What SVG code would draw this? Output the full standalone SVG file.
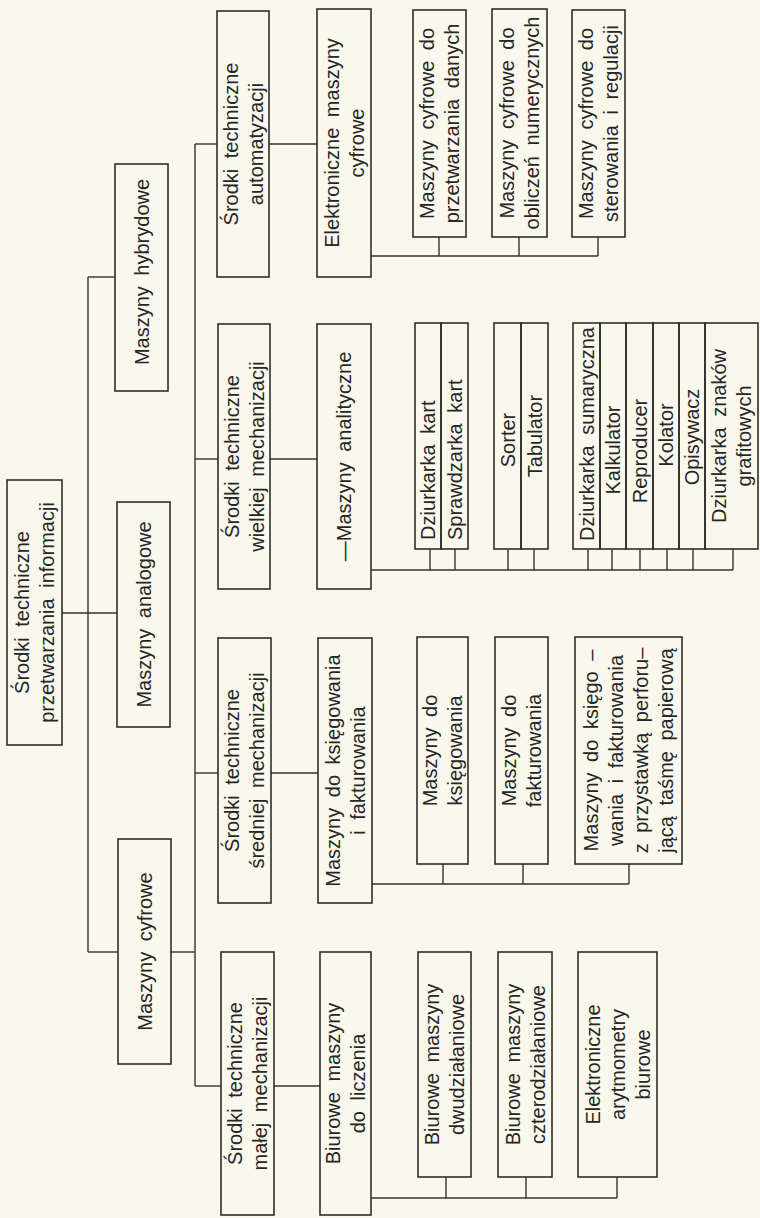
<svg xmlns="http://www.w3.org/2000/svg" width="760" height="1218" viewBox="0 0 760 1218">
<style>
.b{fill:none;stroke:#2e2e2e;stroke-width:1.6}
.c line{stroke:#333;stroke-width:1.4}
text{font-family:"Liberation Sans",Arial,sans-serif;font-size:20px;fill:#262626;text-anchor:middle;dominant-baseline:central;word-spacing:5px}
.s{text-anchor:start}
</style>
<rect x="0" y="0" width="760" height="1218" fill="#faf8ed"/>
<g class="c" id="connectors">
<line x1="88" y1="277" x2="88" y2="952"/>
<line x1="88" y1="277" x2="115" y2="277"/>
<line x1="62" y1="613" x2="117" y2="613"/>
<line x1="88" y1="952" x2="118" y2="952"/>
<line x1="171" y1="952" x2="195" y2="952"/>
<line x1="195" y1="144" x2="195" y2="1086"/>
<line x1="195" y1="144" x2="217" y2="144"/>
<line x1="195" y1="459" x2="218" y2="459"/>
<line x1="195" y1="773" x2="218" y2="773"/>
<line x1="195" y1="1086" x2="221" y2="1086"/>
<line x1="269" y1="144" x2="317" y2="144"/>
<line x1="270" y1="459" x2="317" y2="459"/>
<line x1="271" y1="773" x2="318" y2="773"/>
<line x1="274" y1="1086" x2="320" y2="1086"/>
<line x1="371" y1="256" x2="598" y2="256"/>
<line x1="439" y1="237" x2="439" y2="256"/>
<line x1="519" y1="237" x2="519" y2="256"/>
<line x1="598" y1="237" x2="598" y2="256"/>
<line x1="371" y1="570" x2="733" y2="570"/>
<line x1="430" y1="549" x2="430" y2="570"/>
<line x1="455" y1="549" x2="455" y2="570"/>
<line x1="508" y1="549" x2="508" y2="570"/>
<line x1="534" y1="549" x2="534" y2="570"/>
<line x1="588" y1="549" x2="588" y2="570"/>
<line x1="612" y1="549" x2="612" y2="570"/>
<line x1="640" y1="549" x2="640" y2="570"/>
<line x1="667" y1="549" x2="667" y2="570"/>
<line x1="693" y1="549" x2="693" y2="570"/>
<line x1="733" y1="549" x2="733" y2="570"/>
<line x1="372" y1="884" x2="629" y2="884"/>
<line x1="443" y1="864" x2="443" y2="884"/>
<line x1="523" y1="864" x2="523" y2="884"/>
<line x1="629" y1="864" x2="629" y2="884"/>
<line x1="371" y1="1198" x2="617" y2="1198"/>
<line x1="446" y1="1177" x2="446" y2="1198"/>
<line x1="526" y1="1177" x2="526" y2="1198"/>
<line x1="617" y1="1177" x2="617" y2="1198"/>
</g>
<g id="root"><rect class="b" x="7" y="480" width="55" height="265"/>
<text transform="translate(34.5,612.5) rotate(-90)"><tspan x="0" y="-12.5">Środki techniczne</tspan><tspan x="0" y="12.5">przetwarzania informacji</tspan></text></g>
<g id="hybrydowe"><rect class="b" x="115" y="164" width="53" height="227"/>
<text transform="translate(141.5,272) rotate(-90)">Maszyny hybrydowe</text></g>
<g id="analogowe"><rect class="b" x="117" y="502" width="53" height="225"/>
<text transform="translate(143.5,614.5) rotate(-90)">Maszyny analogowe</text></g>
<g id="cyfrowe"><rect class="b" x="118" y="839" width="53" height="225"/>
<text transform="translate(144.5,951.5) rotate(-90)">Maszyny cyfrowe</text></g>
<g id="automatyzacji"><rect class="b" x="217" y="11" width="52" height="266"/>
<text transform="translate(243,144) rotate(-90)"><tspan x="0" y="-12.5">Środki techniczne</tspan><tspan x="0" y="12.5">automatyzacji</tspan></text></g>
<g id="wielkiej"><rect class="b" x="218" y="324" width="52" height="265"/>
<text transform="translate(244,456.5) rotate(-90)"><tspan x="0" y="-12.5">Środki techniczne</tspan><tspan x="0" y="12.5">wielkiej mechanizacji</tspan></text></g>
<g id="sredniej"><rect class="b" x="218" y="638" width="53" height="265"/>
<text transform="translate(244.5,770.5) rotate(-90)"><tspan x="0" y="-12.5">Środki techniczne</tspan><tspan x="0" y="12.5">średniej mechanizacji</tspan></text></g>
<g id="malej"><rect class="b" x="221" y="952" width="53" height="263"/>
<text transform="translate(247.5,1083.5) rotate(-90)"><tspan x="0" y="-12.5">Środki techniczne</tspan><tspan x="0" y="12.5">małej mechanizacji</tspan></text></g>
<g id="elektroniczne"><rect class="b" x="317" y="9" width="54" height="268"/>
<text transform="translate(344,143) rotate(-90)"><tspan x="0" y="-12.5">Elektroniczne maszyny</tspan><tspan x="0" y="12.5">cyfrowe</tspan></text></g>
<g id="analityczne"><rect class="b" x="317" y="324" width="54" height="265"/>
<text transform="translate(344,456.5) rotate(-90)">—Maszyny analityczne</text></g>
<g id="ksieg-fakt"><rect class="b" x="318" y="638" width="54" height="265"/>
<text transform="translate(345,770.5) rotate(-90)"><tspan x="0" y="-12.5">Maszyny do księgowania</tspan><tspan x="0" y="12.5">i fakturowania</tspan></text></g>
<g id="biurowe-liczenia"><rect class="b" x="320" y="952" width="51" height="263"/>
<text transform="translate(345.5,1083.5) rotate(-90)"><tspan x="0" y="-12.5">Biurowe maszyny</tspan><tspan x="0" y="12.5">do liczenia</tspan></text></g>
<g id="przetwarzania"><rect class="b" x="413" y="10" width="53" height="227"/>
<text transform="translate(439.5,123.5) rotate(-90)"><tspan x="0" y="-12.5">Maszyny cyfrowe do</tspan><tspan x="0" y="12.5">przetwarzania danych</tspan></text></g>
<g id="obliczen"><rect class="b" x="492" y="9" width="55" height="228"/>
<text transform="translate(519.5,123) rotate(-90)"><tspan x="0" y="-12.5">Maszyny cyfrowe do</tspan><tspan x="0" y="12.5">obliczeń numerycznych</tspan></text></g>
<g id="sterowania"><rect class="b" x="572" y="10" width="53" height="227"/>
<text transform="translate(598.5,123.5) rotate(-90)"><tspan x="0" y="-12.5">Maszyny cyfrowe do</tspan><tspan x="0" y="12.5">sterowania i regulacji</tspan></text></g>
<g id="dziurkarka-kart"><rect class="b" x="415" y="323" width="26" height="226"/>
<text class="s" transform="translate(428,540) rotate(-90)">Dziurkarka kart</text></g>
<g id="sprawdzarka"><rect class="b" x="441" y="323" width="27" height="226"/>
<text class="s" transform="translate(454.5,540) rotate(-90)">Sprawdzarka kart</text></g>
<g id="sorter"><rect class="b" x="494" y="323" width="27" height="226"/>
<text transform="translate(507.5,440) rotate(-90)">Sorter</text></g>
<g id="tabulator"><rect class="b" x="521" y="323" width="27" height="226"/>
<text transform="translate(534.5,436) rotate(-90)">Tabulator</text></g>
<g id="sumaryczna"><rect class="b" x="573" y="323" width="27" height="226"/>
<text transform="translate(586.5,434) rotate(-90)">Dziurkarka sumaryczna</text></g>
<g id="kalkulator"><rect class="b" x="600" y="323" width="26" height="226"/>
<text transform="translate(613,450) rotate(-90)">Kalkulator</text></g>
<g id="reproducer"><rect class="b" x="626" y="323" width="27" height="226"/>
<text transform="translate(639.5,451) rotate(-90)">Reproducer</text></g>
<g id="kolator"><rect class="b" x="653" y="323" width="26" height="226"/>
<text transform="translate(666,435) rotate(-90)">Kolator</text></g>
<g id="opisywacz"><rect class="b" x="679" y="323" width="26" height="226"/>
<text transform="translate(692,437) rotate(-90)">Opisywacz</text></g>
<g id="znakow"><rect class="b" x="705" y="323" width="53" height="226"/>
<text transform="translate(731.5,436) rotate(-90)"><tspan x="0" y="-12.5">Dziurkarka znaków</tspan><tspan x="0" y="12.5">grafitowych</tspan></text></g>
<g id="ksiegowania"><rect class="b" x="417" y="637" width="51" height="227"/>
<text transform="translate(442.5,750.5) rotate(-90)"><tspan x="0" y="-12.5">Maszyny do</tspan><tspan x="0" y="12.5">księgowania</tspan></text></g>
<g id="fakturowania"><rect class="b" x="495" y="637" width="53" height="227"/>
<text transform="translate(521.5,750.5) rotate(-90)"><tspan x="0" y="-12.5">Maszyny do</tspan><tspan x="0" y="12.5">fakturowania</tspan></text></g>
<g id="perforujaca"><rect class="b" x="575" y="637" width="107" height="227"/>
<text transform="translate(628.5,750.5) rotate(-90)"><tspan x="0" y="-37.5">Maszyny do księgo –</tspan><tspan x="0" y="-12.5">wania i fakturowania</tspan><tspan x="0" y="12.5">z przystawką perforu–</tspan><tspan x="0" y="37.5">jącą taśmę papierową</tspan></text></g>
<g id="dwudzialaniowe"><rect class="b" x="418" y="952" width="53" height="225"/>
<text transform="translate(444.5,1064.5) rotate(-90)"><tspan x="0" y="-12.5">Biurowe maszyny</tspan><tspan x="0" y="12.5">dwudziałaniowe</tspan></text></g>
<g id="czterodzialaniowe"><rect class="b" x="498" y="952" width="54" height="225"/>
<text transform="translate(525,1064.5) rotate(-90)"><tspan x="0" y="-12.5">Biurowe maszyny</tspan><tspan x="0" y="12.5">czterodziałaniowe</tspan></text></g>
<g id="arytmometry"><rect class="b" x="578" y="952" width="79" height="225"/>
<text transform="translate(617.5,1064.5) rotate(-90)"><tspan x="0" y="-25">Elektroniczne</tspan><tspan x="0" y="0">arytmometry</tspan><tspan x="0" y="25">biurowe</tspan></text></g>
</svg>
